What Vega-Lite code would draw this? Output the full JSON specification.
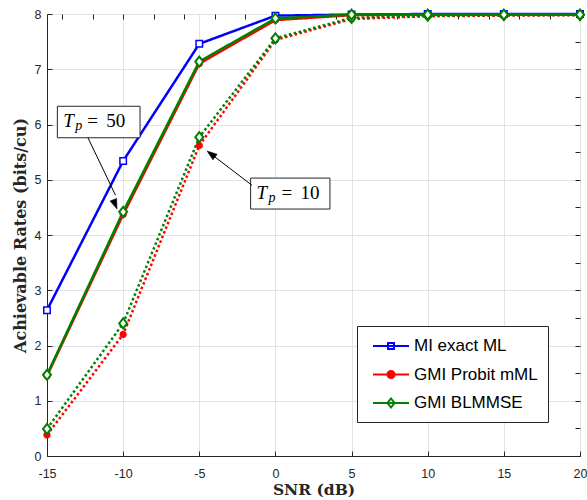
{
  "$schema": "https://vega.github.io/schema/vega-lite/v6.json",
  "width": 533,
  "height": 442,
  "autosize": {"type": "none"},
  "padding": {"left": 47, "top": 14, "right": 7, "bottom": 44},
  "background": "white",
  "config": {
    "view": {"stroke": "#262626", "strokeWidth": 1},
    "axis": {
      "domainColor": "#262626",
      "tickColor": "#262626",
      "labelColor": "#262626",
      "labelFont": "Liberation Sans",
      "labelFontSize": 12.5,
      "tickSize": -5,
      "gridColor": "#e3e3e3",
      "gridWidth": 1,
      "titleFont": "DejaVu Serif",
      "titleFontWeight": "bold",
      "titleFontSize": 16,
      "titleColor": "#262626",
      "domainWidth": 1
    },
    "legend": {
      "orient": "none",
      "legendX": 310,
      "legendY": 312,
      "labelFont": "Liberation Sans",
      "labelFontSize": 17,
      "labelColor": "#000000",
      "strokeColor": "#262626",
      "fillColor": "white",
      "padding": 10,
      "symbolSize": 324,
      "symbolStrokeWidth": 2,
      "rowPadding": 10.5,
      "labelOffset": 13,
      "symbolOffset": 14,
      "labelLimit": 300
    }
  },
  "datasets": {
    "curves": [
      {"snr": -15, "rate": 0.38, "method": "GMI Probit mML", "Tp": 10},
      {"snr": -10, "rate": 2.2, "method": "GMI Probit mML", "Tp": 10},
      {"snr": -5, "rate": 5.62, "method": "GMI Probit mML", "Tp": 10},
      {"snr": 0, "rate": 7.53, "method": "GMI Probit mML", "Tp": 10},
      {"snr": 5, "rate": 7.91, "method": "GMI Probit mML", "Tp": 10},
      {"snr": 10, "rate": 7.96, "method": "GMI Probit mML", "Tp": 10},
      {"snr": 15, "rate": 7.97, "method": "GMI Probit mML", "Tp": 10},
      {"snr": 20, "rate": 7.98, "method": "GMI Probit mML", "Tp": 10},
      {"snr": -15, "rate": 0.49, "method": "GMI BLMMSE", "Tp": 10},
      {"snr": -10, "rate": 2.4, "method": "GMI BLMMSE", "Tp": 10},
      {"snr": -5, "rate": 5.77, "method": "GMI BLMMSE", "Tp": 10},
      {"snr": 0, "rate": 7.56, "method": "GMI BLMMSE", "Tp": 10},
      {"snr": 5, "rate": 7.93, "method": "GMI BLMMSE", "Tp": 10},
      {"snr": 10, "rate": 7.97, "method": "GMI BLMMSE", "Tp": 10},
      {"snr": 15, "rate": 7.98, "method": "GMI BLMMSE", "Tp": 10},
      {"snr": 20, "rate": 7.98, "method": "GMI BLMMSE", "Tp": 10},
      {"snr": -15, "rate": 2.64, "method": "MI exact ML", "Tp": 50},
      {"snr": -10, "rate": 5.34, "method": "MI exact ML", "Tp": 50},
      {"snr": -5, "rate": 7.46, "method": "MI exact ML", "Tp": 50},
      {"snr": 0, "rate": 7.97, "method": "MI exact ML", "Tp": 50},
      {"snr": 5, "rate": 7.99, "method": "MI exact ML", "Tp": 50},
      {"snr": 10, "rate": 8.0, "method": "MI exact ML", "Tp": 50},
      {"snr": 15, "rate": 8.0, "method": "MI exact ML", "Tp": 50},
      {"snr": 20, "rate": 8.0, "method": "MI exact ML", "Tp": 50},
      {"snr": -15, "rate": 1.45, "method": "GMI Probit mML", "Tp": 50},
      {"snr": -10, "rate": 4.37, "method": "GMI Probit mML", "Tp": 50},
      {"snr": -5, "rate": 7.1, "method": "GMI Probit mML", "Tp": 50},
      {"snr": 0, "rate": 7.89, "method": "GMI Probit mML", "Tp": 50},
      {"snr": 5, "rate": 7.98, "method": "GMI Probit mML", "Tp": 50},
      {"snr": 10, "rate": 7.99, "method": "GMI Probit mML", "Tp": 50},
      {"snr": 15, "rate": 7.99, "method": "GMI Probit mML", "Tp": 50},
      {"snr": 20, "rate": 7.99, "method": "GMI Probit mML", "Tp": 50},
      {"snr": -15, "rate": 1.47, "method": "GMI BLMMSE", "Tp": 50},
      {"snr": -10, "rate": 4.42, "method": "GMI BLMMSE", "Tp": 50},
      {"snr": -5, "rate": 7.14, "method": "GMI BLMMSE", "Tp": 50},
      {"snr": 0, "rate": 7.92, "method": "GMI BLMMSE", "Tp": 50},
      {"snr": 5, "rate": 7.99, "method": "GMI BLMMSE", "Tp": 50},
      {"snr": 10, "rate": 7.99, "method": "GMI BLMMSE", "Tp": 50},
      {"snr": 15, "rate": 7.99, "method": "GMI BLMMSE", "Tp": 50},
      {"snr": 20, "rate": 7.99, "method": "GMI BLMMSE", "Tp": 50}
    ]
  },
  "layer": [
    {
      "data": {"name": "curves"},
      "mark": {"type": "line", "strokeWidth": 2.5},
      "encoding": {
        "x": {
          "field": "snr", "type": "quantitative",
          "scale": {"domain": [-15, 20], "nice": false, "zero": false},
          "axis": {"orient": "bottom", "values": [-15, -10, -5, 0, 5, 10, 15, 20], "labelExpr": "'' + datum.value", "labelPadding": 16, "title": "SNR (dB)", "titleBaseline": "alphabetic", "titleFontSize": 15.5, "titlePadding": 15, "grid": true, "labelFlush": false}
        },
        "y": {
          "field": "rate", "type": "quantitative",
          "scale": {"domain": [0, 8], "nice": false},
          "axis": {"orient": "left", "values": [0, 1, 2, 3, 4, 5, 6, 7, 8], "labelPadding": 11, "title": "Achievable Rates (bits/cu)", "titlePadding": 6, "grid": true}
        },
        "stroke": {
          "field": "method", "type": "nominal", "title": null,
          "scale": {"domain": ["MI exact ML", "GMI Probit mML", "GMI BLMMSE"], "range": ["#0000ff", "#ff0000", "#008000"]}
        },
        "strokeDash": {
          "field": "Tp", "type": "nominal", "legend": null,
          "scale": {"domain": [50, 10], "range": [[1, 0], [2.5, 2.5]]}
        }
      }
    },
    {
      "data": {"name": "curves"},
      "transform": [{"filter": "datum.method === 'MI exact ML'"}],
      "mark": {"type": "point", "shape": "square", "filled": true, "fill": "white", "stroke": "#0000ff", "strokeWidth": 1.5, "size": 42, "opacity": 1},
      "encoding": {
        "x": {"field": "snr", "type": "quantitative", "axis": null},
        "y": {"field": "rate", "type": "quantitative", "axis": null}
      }
    },
    {
      "data": {"name": "curves"},
      "transform": [{"filter": "datum.method === 'GMI Probit mML'"}],
      "mark": {"type": "point", "shape": "circle", "filled": true, "fill": "#ff0000", "stroke": "#ff0000", "strokeWidth": 1, "size": 40, "opacity": 1},
      "encoding": {
        "x": {"field": "snr", "type": "quantitative", "axis": null},
        "y": {"field": "rate", "type": "quantitative", "axis": null}
      }
    },
    {
      "data": {"name": "curves"},
      "transform": [{"filter": "datum.method === 'GMI BLMMSE'"}],
      "mark": {"type": "point", "shape": "M0,-1L0.8,0L0,1L-0.8,0Z", "filled": true, "fill": "white", "stroke": "#008000", "strokeWidth": 2, "size": 100, "opacity": 1},
      "encoding": {
        "x": {"field": "snr", "type": "quantitative", "axis": null},
        "y": {"field": "rate", "type": "quantitative", "axis": null}
      }
    },
    {
      "data": {"name": "curves"},
      "transform": [{"filter": "datum.rate < -100"}],
      "mark": {"type": "point", "strokeWidth": 2, "opacity": 1},
      "encoding": {
        "x": {"field": "snr", "type": "quantitative", "axis": {"orient": "top", "labels": false, "grid": false, "title": null, "domain": false}},
        "y": {"field": "rate", "type": "quantitative", "axis": {"orient": "right", "labels": false, "grid": false, "title": null, "domain": false}},
        "stroke": {
          "field": "method", "type": "nominal", "title": null,
          "scale": {"domain": ["MI exact ML", "GMI Probit mML", "GMI BLMMSE"], "range": ["#0000ff", "#ff0000", "#008000"]}
        },
        "fill": {
          "field": "method", "type": "nominal", "title": null,
          "scale": {"domain": ["MI exact ML", "GMI Probit mML", "GMI BLMMSE"], "range": ["#ffffff", "#ff0000", "#ffffff"]}
        },
        "shape": {
          "field": "method", "type": "nominal", "title": null,
          "scale": {"domain": ["MI exact ML", "GMI Probit mML", "GMI BLMMSE"], "range": [
            "M-2,0H2M-0.33,-0.33H0.33V0.33H-0.33Z",
            "M-2,0H2M-0.39,0A0.39,0.39,0,1,0,0.39,0A0.39,0.39,0,1,0,-0.39,0Z",
            "M-2,0H2M0,-0.5L0.4,0L0,0.5L-0.4,0Z"
          ]}
        }
      }
    },
    {
      "data": {"values": [{}]},
      "mark": {"type": "rect", "fill": "white", "stroke": "#262626", "strokeWidth": 1},
      "encoding": {
        "x": {"datum": -14.32, "type": "quantitative", "axis": null},
        "x2": {"datum": -8.89},
        "y": {"datum": 6.33, "type": "quantitative", "axis": null},
        "y2": {"datum": 5.76}
      }
    },
    {
      "data": {"values": [{}]},
      "mark": {"type": "rect", "fill": "white", "stroke": "#262626", "strokeWidth": 1},
      "encoding": {
        "x": {"datum": -1.63, "type": "quantitative", "axis": null},
        "x2": {"datum": 3.58},
        "y": {"datum": 5.03, "type": "quantitative", "axis": null},
        "y2": {"datum": 4.47}
      }
    },
    {
      "data": {"values": [{}]},
      "mark": {"type": "rule", "stroke": "black", "strokeWidth": 1},
      "encoding": {
        "x": {"datum": -12.31, "type": "quantitative", "axis": null},
        "x2": {"datum": -10.5},
        "y": {"datum": 5.76, "type": "quantitative", "axis": null},
        "y2": {"datum": 4.72}
      }
    },
    {
      "data": {"values": [{}]},
      "mark": {"type": "rule", "stroke": "black", "strokeWidth": 1},
      "encoding": {
        "x": {"datum": -1.54, "type": "quantitative", "axis": null},
        "x2": {"datum": -4.2},
        "y": {"datum": 4.9, "type": "quantitative", "axis": null},
        "y2": {"datum": 5.46}
      }
    },
    {
      "data": {"values": [{}]},
      "mark": {"type": "point", "shape": "M0,0L-0.35,1L0.35,1Z", "filled": true, "fill": "black", "stroke": "black", "strokeWidth": 0.5, "size": 400, "angle": 158, "opacity": 1},
      "encoding": {
        "x": {"datum": -10.4, "type": "quantitative", "axis": null},
        "y": {"datum": 4.47, "type": "quantitative", "axis": null}
      }
    },
    {
      "data": {"values": [{}]},
      "mark": {"type": "point", "shape": "M0,0L-0.35,1L0.35,1Z", "filled": true, "fill": "black", "stroke": "black", "strokeWidth": 0.5, "size": 400, "angle": 307, "opacity": 1},
      "encoding": {
        "x": {"datum": -4.49, "type": "quantitative", "axis": null},
        "y": {"datum": 5.52, "type": "quantitative", "axis": null}
      }
    },
    {
      "data": {"values": [{}]},
      "mark": {"type": "text", "text": "T", "font": "Liberation Serif", "fontStyle": "italic", "fontSize": 19, "align": "left", "baseline": "alphabetic", "dx": 6, "dy": 5, "color": "black"},
      "encoding": {"x": {"datum": -14.32, "type": "quantitative", "axis": null}, "y": {"datum": 6.045, "type": "quantitative", "axis": null}}
    },
    {
      "data": {"values": [{}]},
      "mark": {"type": "text", "text": "p", "font": "Liberation Serif", "fontStyle": "italic", "fontSize": 14, "align": "left", "baseline": "alphabetic", "dx": 18, "dy": 8, "color": "black"},
      "encoding": {"x": {"datum": -14.32, "type": "quantitative", "axis": null}, "y": {"datum": 6.045, "type": "quantitative", "axis": null}}
    },
    {
      "data": {"values": [{}]},
      "mark": {"type": "text", "text": "=", "font": "Liberation Serif", "fontSize": 19, "align": "left", "baseline": "alphabetic", "dx": 30, "dy": 5, "color": "black"},
      "encoding": {"x": {"datum": -14.32, "type": "quantitative", "axis": null}, "y": {"datum": 6.045, "type": "quantitative", "axis": null}}
    },
    {
      "data": {"values": [{}]},
      "mark": {"type": "text", "text": "50", "font": "Liberation Serif", "fontSize": 19, "align": "left", "baseline": "alphabetic", "dx": 49, "dy": 5, "color": "black"},
      "encoding": {"x": {"datum": -14.32, "type": "quantitative", "axis": null}, "y": {"datum": 6.045, "type": "quantitative", "axis": null}}
    },
    {
      "data": {"values": [{}]},
      "mark": {"type": "text", "text": "T", "font": "Liberation Serif", "fontStyle": "italic", "fontSize": 19, "align": "left", "baseline": "alphabetic", "dx": 6, "dy": 5, "color": "black"},
      "encoding": {"x": {"datum": -1.63, "type": "quantitative", "axis": null}, "y": {"datum": 4.75, "type": "quantitative", "axis": null}}
    },
    {
      "data": {"values": [{}]},
      "mark": {"type": "text", "text": "p", "font": "Liberation Serif", "fontStyle": "italic", "fontSize": 14, "align": "left", "baseline": "alphabetic", "dx": 18, "dy": 8, "color": "black"},
      "encoding": {"x": {"datum": -1.63, "type": "quantitative", "axis": null}, "y": {"datum": 4.75, "type": "quantitative", "axis": null}}
    },
    {
      "data": {"values": [{}]},
      "mark": {"type": "text", "text": "=", "font": "Liberation Serif", "fontSize": 19, "align": "left", "baseline": "alphabetic", "dx": 31, "dy": 5, "color": "black"},
      "encoding": {"x": {"datum": -1.63, "type": "quantitative", "axis": null}, "y": {"datum": 4.75, "type": "quantitative", "axis": null}}
    },
    {
      "data": {"values": [{}]},
      "mark": {"type": "text", "text": "10", "font": "Liberation Serif", "fontSize": 19, "align": "left", "baseline": "alphabetic", "dx": 50, "dy": 5, "color": "black"},
      "encoding": {"x": {"datum": -1.63, "type": "quantitative", "axis": null}, "y": {"datum": 4.75, "type": "quantitative", "axis": null}}
    }
  ]
}
